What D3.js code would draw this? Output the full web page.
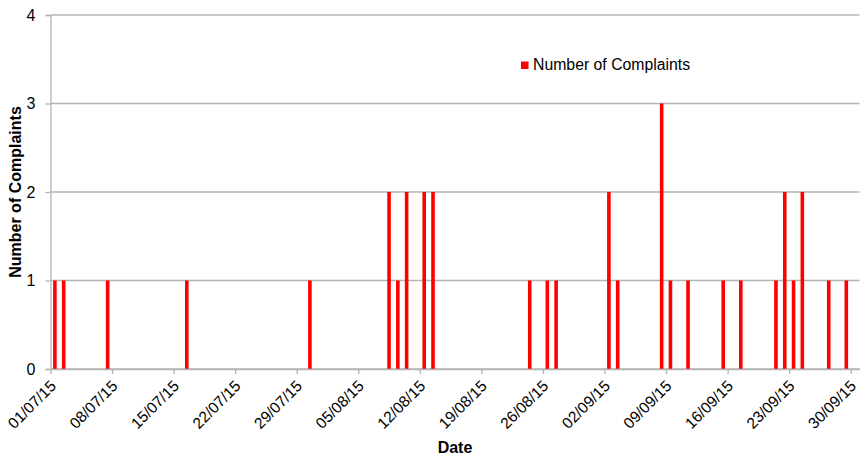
<!DOCTYPE html>
<html>
<head>
<meta charset="utf-8">
<script src="https://cdn.jsdelivr.net/npm/d3@7/dist/d3.min.js"></script>
<style>
  html, body { margin: 0; padding: 0; background: #ffffff; }
  svg { display: block; font-family: "Liberation Sans", Arial, sans-serif; }
</style>
</head>
<body>
<svg id="chart" width="862" height="460"></svg>
<script>
// ---- Data ----
const complaintDates = [
  "01/07/15", "02/07/15", "07/07/15", "16/07/15", "30/07/15",
  "08/08/15", "09/08/15", "10/08/15", "12/08/15", "13/08/15",
  "24/08/15", "26/08/15", "27/08/15",
  "02/09/15", "03/09/15", "08/09/15", "09/09/15", "11/09/15",
  "15/09/15", "17/09/15", "21/09/15", "22/09/15", "23/09/15",
  "24/09/15", "27/09/15", "29/09/15"
];
const complaintCounts = [
  1, 1, 1, 1, 1,
  2, 1, 2, 2, 2,
  1, 1, 1,
  2, 1, 3, 1, 1,
  1, 1, 1, 2, 1,
  2, 1, 1
];
const xTickLabels = [
  "01/07/15", "08/07/15", "15/07/15", "22/07/15", "29/07/15",
  "05/08/15", "12/08/15", "19/08/15", "26/08/15", "02/09/15",
  "09/09/15", "16/09/15", "23/09/15", "30/09/15"
];
const yTicks = [0, 1, 2, 3, 4];
const seriesName = "Number of Complaints";
const xTitle = "Date";
const yTitle = "Number of Complaints";
const axisStart = "01/07/15";
const axisEnd = "01/10/15";

(function () {
  const parse = d3.utcParse("%d/%m/%y");
  const data = complaintDates.map((d, i) => ({ date: parse(d), value: complaintCounts[i] }));

  const svg = d3.select("#chart");
  const mLeft = 50.5, mRight = 859.5, mTop = 15, mBottom = 369;
  const fontFam = "'Liberation Sans', Arial, sans-serif";

  const x = d3.scaleUtc()
    .domain([parse(axisStart), parse(axisEnd)])
    .range([mLeft, mRight]);
  const y = d3.scaleLinear().domain([0, 4]).range([mBottom, mTop]);

  const dayW = x(d3.utcDay.offset(parse(axisStart), 1)) - x(parse(axisStart));
  const barW = 3.6;
  const gridColor = "#b4b4b4";

  // gridlines
  svg.append("g")
    .selectAll("line")
    .data(yTicks)
    .join("line")
    .attr("x1", mLeft)
    .attr("x2", mRight)
    .attr("y1", d => y(d))
    .attr("y2", d => y(d))
    .attr("stroke", gridColor)
    .attr("stroke-width", 1.3);

  // y axis
  const yAxis = svg.append("g")
    .attr("transform", `translate(${mLeft},0)`)
    .call(d3.axisLeft(y).tickValues(yTicks).tickFormat(d3.format("d")).tickSize(5).tickPadding(10));
  yAxis.select(".domain").attr("stroke", gridColor).attr("stroke-width", 1.3);
  yAxis.selectAll(".tick line").attr("stroke", gridColor).attr("stroke-width", 1.3);
  yAxis.selectAll(".tick text")
    .attr("font-size", 16)
    .attr("fill", "#000")
    .attr("font-family", fontFam);

  // bars
  svg.append("g")
    .selectAll("rect")
    .data(data)
    .join("rect")
    .attr("x", d => x(d.date) + dayW / 2 - barW / 2)
    .attr("y", d => y(d.value))
    .attr("width", barW)
    .attr("height", d => y(0) - y(d.value))
    .attr("fill", "#ff0000");

  // x axis
  const xAxis = svg.append("g")
    .attr("transform", `translate(0,${mBottom})`)
    .call(d3.axisBottom(x)
      .tickValues(xTickLabels.map(parse))
      .tickFormat(d3.utcFormat("%d/%m/%y"))
      .tickSize(5)
      .tickSizeOuter(0));
  xAxis.select(".domain").attr("stroke", gridColor).attr("stroke-width", 1.3);
  xAxis.selectAll(".tick line").attr("stroke", gridColor).attr("stroke-width", 1.3);
  xAxis.selectAll(".tick text")
    .attr("font-size", 15.5)
    .attr("fill", "#000")
    .attr("font-family", fontFam)
    .attr("text-anchor", "end")
    .attr("dy", "0")
    .attr("y", 0)
    .attr("transform", "translate(6,18) rotate(-45)");

  // axis titles
  svg.append("text")
    .attr("x", (mLeft + mRight) / 2)
    .attr("y", 453)
    .attr("text-anchor", "middle")
    .attr("font-family", fontFam)
    .attr("font-size", 16)
    .attr("font-weight", "bold")
    .text(xTitle);

  svg.append("text")
    .attr("transform", `translate(21,${(mTop + mBottom) / 2}) rotate(-90)`)
    .attr("text-anchor", "middle")
    .attr("font-family", fontFam)
    .attr("font-size", 16)
    .attr("font-weight", "bold")
    .text(yTitle);

  // legend
  const legend = svg.append("g").attr("transform", "translate(521,61.5)");
  legend.append("rect").attr("width", 7.5).attr("height", 7.5).attr("fill", "#ff0000");
  legend.append("text")
    .attr("x", 12)
    .attr("y", 8.5)
    .attr("font-family", fontFam)
    .attr("font-size", 15.8)
    .attr("fill", "#000")
    .text(seriesName);
})();
</script>
</body>
</html>
